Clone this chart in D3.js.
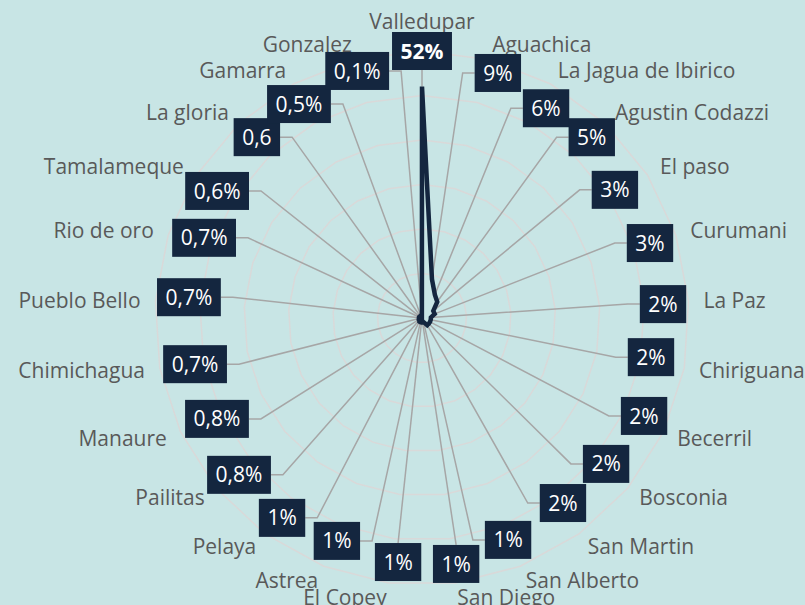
<!DOCTYPE html>
<html><head><meta charset="utf-8">
<script src="https://cdn.jsdelivr.net/npm/d3@7"></script>
<style>html,body{margin:0;padding:0;background:#c8e5e5;}svg{display:block}</style>
</head><body><svg id="chart" width="805" height="605"></svg>
<script>
// ---- data ----
const categories = ["Valledupar","Aguachica","La Jagua de Ibirico","Agustin Codazzi","El paso","Curumani","La Paz","Chiriguana","Becerril","Bosconia","San Martin","San Alberto","San Diego","El Copey","Astrea","Pelaya","Pailitas","Manaure","Chimichagua","Pueblo Bello","Rio de oro","Tamalameque","La gloria","Gamarra","Gonzalez"];
const values = [0.52,0.09,0.06,0.05,0.03,0.03,0.02,0.02,0.02,0.02,0.02,0.01,0.01,0.01,0.01,0.01,0.008,0.008,0.007,0.007,0.007,0.006,0.006,0.005,0.001];
const valueLabels = ["52%","9%","6%","5%","3%","3%","2%","2%","2%","2%","2%","1%","1%","1%","1%","1%","0,8%","0,8%","0,7%","0,7%","0,7%","0,6%","0,6","0,5%","0,1%"];
const ringTicks = [0.1,0.2,0.3,0.4,0.5,0.6];

// ---- layout of the manually placed data labels (distance px from centre, angle tweak in degrees) ----
const labelDist = [267,256.5,243.7,248,231.6,240,241.4,232.3,242.7,234.9,232.6,238,248.3,245.2,238.6,244,241,228.5,231.6,234,232.2,241.1,244.9,246.8,255.4];
const labelAngleAdj = [0,2.8,1.8,0,-1.2,-0.2,0.3,-1.1,-1.4,-1.2,-1.3,0.4,-0.7,-1.6,-0.7,-1,-1,-1,-0.7,1.5,2.2,-0.6,0.8,-1.1,-0.3];

const W = 805, H = 605, cx = 422, cy = 318;
const FONT = "'Open Sans', 'Noto Sans', sans-serif";
const navy = "#14263f";
const n = categories.length;

const svg = d3.select("#chart");
svg.append("rect").attr("width", W).attr("height", H).attr("fill", "#c8e5e5");
const g = svg.append("g").attr("transform", `translate(${cx},${cy})`);

const r = d3.scaleLinear().domain([0, 0.6]).range([0, 267]);
const ang = d3.scaleLinear().domain([0, n]).range([0, 2 * Math.PI]);

// grid rings (polygons)
const ringLine = t => d3.lineRadial()
  .angle((d, i) => ang(i))
  .radius(() => r(t))
  .curve(d3.curveLinearClosed)(categories);
g.selectAll("path.ring").data(ringTicks).join("path")
  .attr("class", "ring")
  .attr("d", t => ringLine(t))
  .attr("fill", "none").attr("stroke", "#d9d9d9").attr("stroke-width", 1.5);

// category labels
const RL = 282;
categories.forEach((c, i) => {
  const a = ang(i), s = Math.sin(a), co = Math.cos(a);
  const x = RL * s, y = -RL * co;
  const anchor = Math.abs(s) < 0.01 ? "middle" : (s > 0 ? "start" : "end");
  const t = g.append("text")
    .attr("x", x).attr("y", y)
    .attr("text-anchor", anchor)
    .attr("font-family", FONT).attr("font-size", 21)
    .attr("fill", "#595959")
    .text(c);
  if (Math.abs(s) < 0.01 && co > 0) t.attr("dy", "-0.33em");
  else t.attr("dy", "0.36em");
});

// data points
const pts = values.map((v, i) => {
  const a = ang(i);
  return [r(v) * Math.sin(a), -r(v) * Math.cos(a)];
});

// label boxes geometry (measure text)
const labelsG = g.append("g");
const boxes = valueLabels.map((lab, i) => {
  const a = ang(i) + labelAngleAdj[i] * Math.PI / 180;
  const bx = labelDist[i] * Math.sin(a), by = -labelDist[i] * Math.cos(a);
  const t = labelsG.append("text")
    .attr("font-family", FONT).attr("font-size", 21)
    .attr("font-weight", i === 0 ? 700 : 400)
    .attr("fill", "#ffffff").attr("text-anchor", "middle")
    .attr("x", bx).attr("y", by).attr("dy", "0.36em")
    .text(lab);
  const w = t.node().getComputedTextLength() + 17;
  return {bx, by, w, h: 38, t};
});

// leader lines
const leadG = g.insert("g", () => labelsG.node());
boxes.forEach((b, i) => {
  const [px, py] = pts[i];
  const dx = b.bx - px, dy = b.by - py;
  let path;
  if (Math.abs(dx) < 0.2 * Math.abs(dy)) {
    const ay = b.by - Math.sign(dy) * b.h / 2;
    path = [[px, py], [b.bx, ay]];
  } else {
    const ex = b.bx - Math.sign(dx) * b.w / 2;
    const sx = ex - Math.sign(dx) * 12;
    path = [[px, py], [sx, b.by], [ex, b.by]];
  }
  leadG.append("path").attr("d", d3.line()(path))
    .attr("fill", "none").attr("stroke", "#a6a6a6").attr("stroke-width", 1.5);
});

// series line
const series = d3.lineRadial()
  .angle((d, i) => ang(i))
  .radius(d => r(d))
  .curve(d3.curveLinearClosed);
g.insert("path", () => labelsG.node())
  .attr("d", series(values))
  .attr("fill", "none").attr("stroke", navy).attr("stroke-width", 4.5)
  .attr("stroke-linejoin", "miter");

// boxes behind texts
boxes.forEach(b => {
  labelsG.insert("rect", () => b.t.node())
    .attr("x", b.bx - b.w / 2).attr("y", b.by - b.h / 2)
    .attr("width", b.w).attr("height", b.h)
    .attr("fill", navy);
});
</script></body></html>
